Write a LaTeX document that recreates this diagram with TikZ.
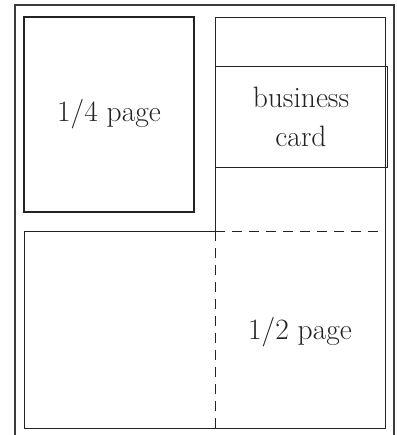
\documentclass[tikz,border=0pt]{standalone}
\usepackage{tikz}
\usetikzlibrary{positioning}
\definecolor{ink}{RGB}{35,35,35}
\definecolor{frameline}{RGB}{60,60,60}
\tikzset{
    line cap=butt,
    line join=miter,
    pageframe/.style={
        draw=frameline,
        line width=2pt
    },
    adbox/.style={
        rectangle,
        draw=ink,
        line width=0.8pt,
        inner sep=0pt,
        align=center,
        text=ink,
        font=\fontsize{29.5}{39}\selectfont
    },
    quarterbox/.style={
        adbox,
        line width=2pt
    },
    adline/.style={
        draw=ink,
        line width=0.8pt
    },
    cutline/.style={
        adline,
        dash pattern=on 10pt off 7pt
    }
}
\begin{document}
\begin{tikzpicture}[x=1pt, y=-1pt]
\useasboundingbox (0,0) rectangle (396,435);

% page frame, cut off at the bottom
\draw[pageframe] (15,435) -- (15,5) -- (394,5) -- (394,435);

% quarter page
\node[quarterbox, minimum width=170pt, minimum height=195pt] (quarter) at (109,114.5) {1/4 page};

% right column with business card
\draw[adline] (215,231) -- (215,17) -- (385,17) -- (385,231);
\node[adbox, minimum width=172pt, minimum height=101pt] (card) at (301,116.5) {business\\card};

% lower half
\coordinate (halfnw) at (215,231);
\coordinate (halfne) at (385,231);
\coordinate (halfsw) at (215,428);
\coordinate (halfse) at (385,428);
\draw[adline] (halfnw) -- (24,231) -- (24,428) -- (halfsw);
\draw[adline] (halfne) -- (halfse) -- (halfsw);
\draw[cutline] (halfnw) -- (halfne);
\draw[cutline] (halfnw) -- (halfsw);
\node[font=\fontsize{29.5}{39}\selectfont, text=ink] (half) at (300,332) {1/2 page};
\end{tikzpicture}
\end{document}
